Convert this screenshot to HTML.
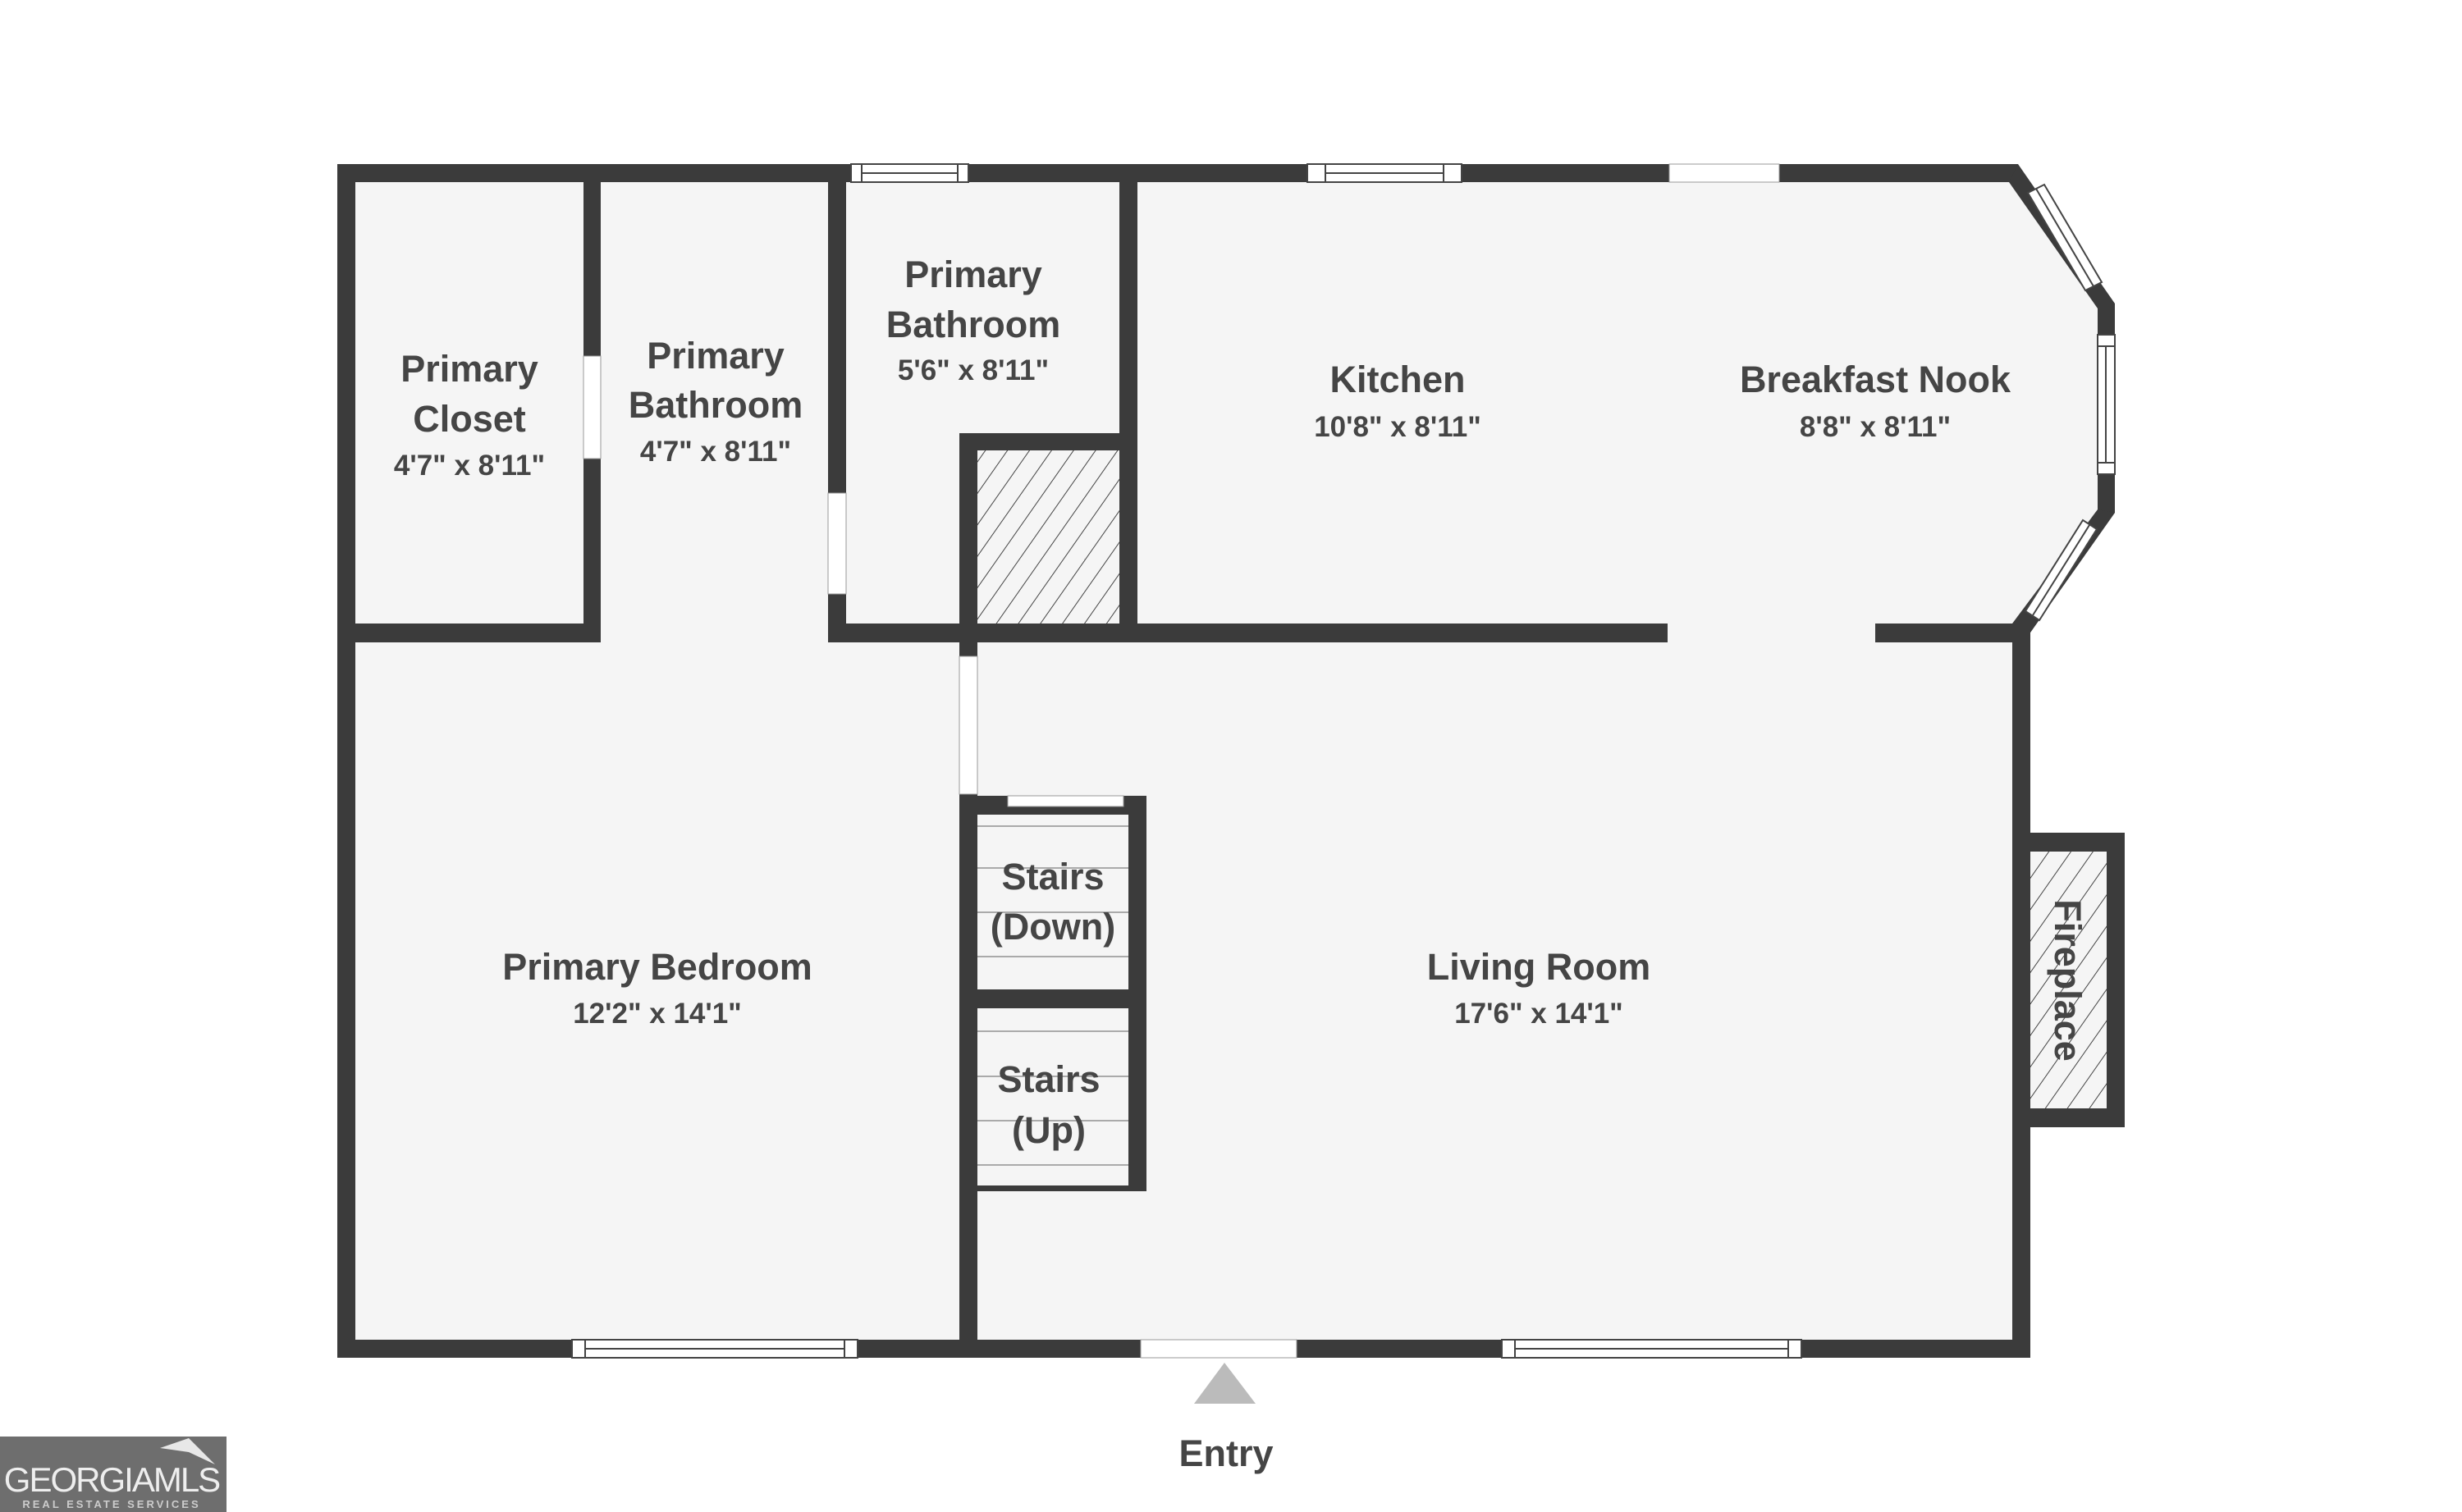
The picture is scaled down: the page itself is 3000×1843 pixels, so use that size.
<!DOCTYPE html>
<html><head><meta charset="utf-8"><style>
html,body{margin:0;padding:0;background:#fff;}
svg{display:block;}
text{font-family:"Liberation Sans",sans-serif;font-weight:bold;fill:#454545;text-anchor:middle;}
.n{font-size:45px;}
.d{font-size:35px;}
</style></head><body>
<svg width="3000" height="1843" viewBox="0 0 3000 1843" xmlns="http://www.w3.org/2000/svg">
<defs>
<pattern id="h" patternUnits="userSpaceOnUse" width="22" height="22" patternTransform="rotate(35)">
<rect width="22" height="22" fill="#f5f5f5"/><line x1="0" y1="0" x2="0" y2="22" stroke="#444" stroke-width="2"/>
</pattern>
</defs>
<polygon points="411,200 2459,200 2577,370 2577,625 2472,774 2474,1655 411,1655" fill="#f5f5f5"/>
<g fill="#3b3b3b">
<rect x="411" y="200" width="2048" height="22"/>
<polygon points="2459,200 2577,370 2556,376 2448,222"/>
<rect x="2556" y="370" width="21" height="255"/>
<polygon points="2577,625 2472,774 2452,760 2556,621"/>
<rect x="411" y="200" width="22" height="1455"/>
<rect x="411" y="1633" width="2063" height="22"/>
<rect x="2452" y="760" width="22" height="895"/>
<rect x="411" y="760" width="321" height="23"/>
<rect x="1009" y="760" width="1023" height="23"/>
<rect x="2285" y="760" width="175" height="23"/>
<rect x="711" y="200" width="21" height="583"/>
<rect x="1009" y="200" width="22" height="583"/>
<rect x="1364" y="200" width="22" height="583"/>
<rect x="1169" y="528" width="217" height="21"/>
<rect x="1169" y="528" width="22" height="255"/>
<rect x="1169" y="783" width="22" height="872"/>
<rect x="1169" y="970" width="228" height="23"/>
<rect x="1375" y="970" width="22" height="482"/>
<rect x="1169" y="1206" width="228" height="23"/>
<rect x="1169" y="1445" width="228" height="7"/>
<rect x="2464" y="1015" width="125" height="359"/>
</g>
<rect x="1191" y="549" width="173" height="211" fill="url(#h)"/>
<rect x="2474" y="1038" width="93" height="313" fill="url(#h)"/>
<g fill="#fff" stroke="#999" stroke-width="1">
<rect x="711" y="434" width="21" height="125"/>
<rect x="1009" y="601" width="22" height="123"/>
<rect x="1169" y="800" width="22" height="168"/>
<rect x="2034" y="200" width="134" height="22"/>
<rect x="1390" y="1633" width="190" height="22"/>
</g>
<g fill="#fff" stroke="#444" stroke-width="2">
<rect x="1037" y="200" width="143" height="22"/><line x1="1050" y1="200" x2="1050" y2="222"/><line x1="1167" y1="200" x2="1167" y2="222"/><line x1="1050" y1="211" x2="1167" y2="211"/>
<rect x="1593" y="200" width="188" height="22"/><line x1="1615" y1="200" x2="1615" y2="222"/><line x1="1759" y1="200" x2="1759" y2="222"/><line x1="1615" y1="211" x2="1759" y2="211"/>
<rect x="697" y="1633" width="348" height="22"/><line x1="713" y1="1633" x2="713" y2="1655"/><line x1="1029" y1="1633" x2="1029" y2="1655"/><line x1="713" y1="1644" x2="1029" y2="1644"/>
<rect x="1830" y="1633" width="365" height="22"/><line x1="1846" y1="1633" x2="1846" y2="1655"/><line x1="2179" y1="1633" x2="2179" y2="1655"/><line x1="1846" y1="1644" x2="2179" y2="1644"/>
<rect x="2556" y="408" width="21" height="170"/><line x1="2556" y1="422" x2="2577" y2="422"/><line x1="2556" y1="564" x2="2577" y2="564"/><line x1="2566" y1="422" x2="2566" y2="564"/>
<rect x="1228" y="970" width="141" height="13" stroke="#999" stroke-width="1"/>
<polygon points="2471,235 2491,225 2561,344 2541,354"/>
<line x1="2481" y1="230" x2="2551" y2="349"/>
<polygon points="2555,645 2538,634 2468,745 2485,756"/>
<line x1="2546" y1="640" x2="2477" y2="750"/>
</g>
<g stroke="#aaa" stroke-width="2">
<line x1="1191" y1="1007" x2="1375" y2="1007"/><line x1="1191" y1="1058" x2="1375" y2="1058"/><line x1="1191" y1="1112" x2="1375" y2="1112"/><line x1="1191" y1="1166" x2="1375" y2="1166"/>
<line x1="1191" y1="1257" x2="1375" y2="1257"/><line x1="1191" y1="1312" x2="1375" y2="1312"/><line x1="1191" y1="1366" x2="1375" y2="1366"/><line x1="1191" y1="1420" x2="1375" y2="1420"/>
</g>
<polygon points="1492,1661 1530,1711 1455,1711" fill="#bbb"/>
<text class="n" x="1494" y="1787">Entry</text>
<text class="n" x="572" y="465">Primary</text><text class="n" x="572" y="526">Closet</text><text class="d" x="572" y="579">4'7" x 8'11"</text>
<text class="n" x="872" y="449">Primary</text><text class="n" x="872" y="509">Bathroom</text><text class="d" x="872" y="562">4'7" x 8'11"</text>
<text class="n" x="1186" y="350">Primary</text><text class="n" x="1186" y="411">Bathroom</text><text class="d" x="1186" y="463">5'6" x 8'11"</text>
<text class="n" x="1703" y="478">Kitchen</text><text class="d" x="1703" y="532">10'8" x 8'11"</text>
<text class="n" x="2285" y="478">Breakfast Nook</text><text class="d" x="2285" y="532">8'8" x 8'11"</text>
<text class="n" x="801" y="1194">Primary Bedroom</text><text class="d" x="801" y="1247">12'2" x 14'1"</text>
<text class="n" x="1875" y="1194">Living Room</text><text class="d" x="1875" y="1247">17'6" x 14'1"</text>
<text class="n" x="1283" y="1084">Stairs</text><text class="n" x="1283" y="1145">(Down)</text>
<text class="n" x="1278" y="1331">Stairs</text><text class="n" x="1278" y="1393">(Up)</text>
<text class="n" transform="translate(2504,1195) rotate(90)" x="0" y="0">Fireplace</text>
<rect x="0" y="1751" width="276" height="92" fill="#6e6e6e"/>
<polygon points="195,1765 230,1753 262,1785 230,1770" fill="#e8e8e8"/>
<text x="136" y="1818" style="font-size:42px;font-weight:normal;fill:#eee;letter-spacing:-2px">GEORGIAMLS</text>
<text x="136" y="1838" style="font-size:13px;fill:#ccc;letter-spacing:3px">REAL ESTATE SERVICES</text>
</svg>
</body></html>
